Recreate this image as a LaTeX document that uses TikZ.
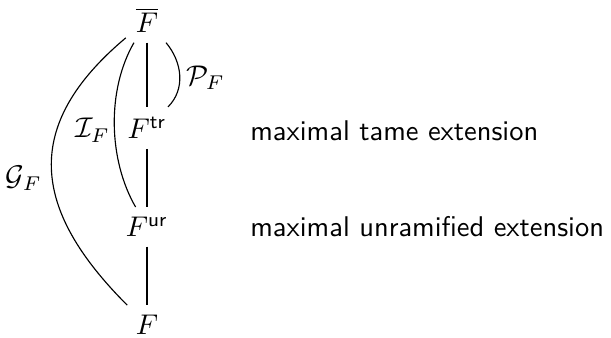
\documentclass[tikz,border=0pt]{standalone}
\usepackage{amsmath,amssymb}

\begin{document}
\begin{tikzpicture}[note/.style={anchor=west, font=\sffamily}]
\useasboundingbox (-1.813,0.247) rectangle (5.721,-3.909);
\node at (0,0) (Fbar) {$\overline{F}$};
\node at (0,-1.33) (Ftr) {$F^{\mathsf{tr}}$};
\node at (0,-2.55) (Fur) {$F^{\mathsf{ur}}$};
\node at (0,-3.76) (F) {$F$};
\node at (0.72,-0.71) (PF) {$\mathcal{P}_F$};
\node at (-0.67,-1.36) (IF) {$\mathcal{I}_F$};
\node at (-1.52,-1.95) (GF) {$\mathcal{G}_F$};
\node[note] at (1.15,-1.36) (tame) {maximal tame extension};
\node[note] at (1.15,-2.55) (unram) {maximal unramified extension};
\draw (Fbar) -- (Ftr);
\draw (Ftr) -- (Fur);
\draw (Fur) -- (F);
\draw (Fbar) edge[out=-50,in=45] (Ftr);
\draw (Fbar) edge[out=-120,in=120,looseness=0.85] (Fur);
\draw (Fbar) edge[out=-140,in=135,looseness=1.3] (F);
\end{tikzpicture}
\end{document}
